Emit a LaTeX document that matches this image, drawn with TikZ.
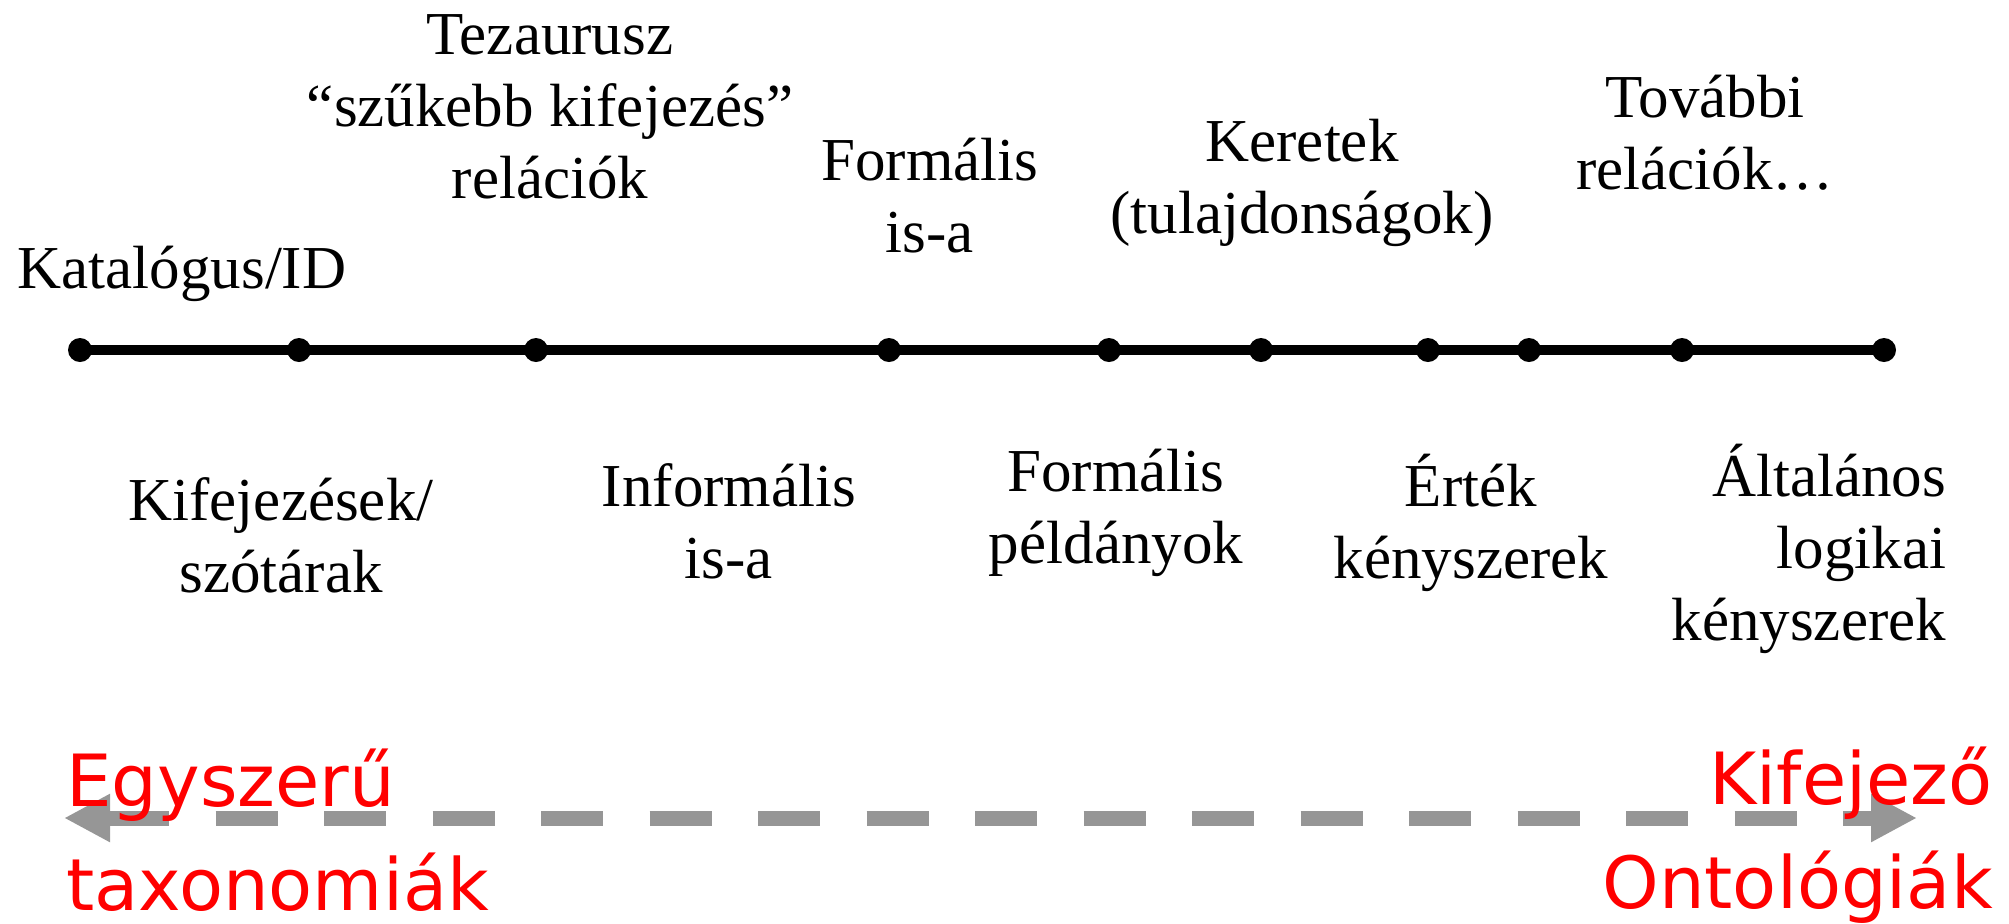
\documentclass[tikz,border=0pt]{standalone}
\usepackage{fontspec}
\setmainfont{Liberation Serif}
\newfontfamily\sansfont{DejaVu Sans}
\usepackage{tikz}
\usetikzlibrary{arrows.meta}
\usetikzlibrary{positioning}
\usepackage{xcolor}
\definecolor{myred}{HTML}{FF0000}
\definecolor{mygray}{HTML}{969696}
\tikzset{every text node part/.style={font={\fontsize{30.5}{36}\selectfont}}}
\tikzstyle{lbl} = [inner sep=0pt, outer sep=0pt, anchor=base, align=center]
\tikzstyle{dot} = [circle, fill=black, inner sep=0pt, minimum size=12pt]
\tikzstyle{ln} = [draw, line width=4.75pt]
\tikzstyle{endlbl} = [inner sep=0pt, text=myred, every text node part/.append style={font={\sansfont\fontsize{36}{52}\selectfont}}]
\tikzstyle{scalearrow} = [draw=mygray, line width=7.5pt, dash pattern=on 31pt off 23.25pt, arrows={Triangle[length=23pt, width=22.5pt]-Triangle[length=23pt, width=22.5pt]}]

\begin{document}
\begin{tikzpicture}[x=0.5pt, y=-0.5pt]
  \useasboundingbox (0,0) rectangle (2009,923);
  % the scale with its points
  \node[dot] (p1) at (80,350) {};
  \node[dot] (p2) at (299,350) {};
  \node[dot] (p3) at (536,350) {};
  \node[dot] (p4) at (889,350) {};
  \node[dot] (p5) at (1109,350) {};
  \node[dot] (p6) at (1261,350) {};
  \node[dot] (p7) at (1428,350) {};
  \node[dot] (p8) at (1529,350) {};
  \node[dot] (p9) at (1682,350) {};
  \node[dot] (p10) at (1884,350) {};
  \draw[ln] (p1.center) -- (p10.center);
  % labels above (base = last line)
  \node[lbl] (katalogus) at (182,288) {Katalógus/ID};
  \node[lbl] (tezaurusz) at (550,198) {Tezaurusz\\“szűkebb kifejezés”\\relációk};
  \node[lbl] (formisa) at (930,252) {Formális\\is-a};
  \node[lbl] (keretek) at (1302,233) {Keretek\\(tulajdonságok)};
  \node[lbl] (tovabbi) at (1705,189) {További\\relációk…};
  % labels below
  \node[lbl] (kifejezesek) at (281,592) {Kifejezések/\\szótárak};
  \node[lbl] (informisa) at (729,578) {Informális\\is-a};
  \node[lbl] (peldanyok) at (1116,563) {Formális\\példányok};
  \node[lbl] (ertek) at (1471,578) {Érték\\kényszerek};
  \node[lbl, anchor=base east, align=right] (altalanos) at (1946,640) {Általános\\logikai\\kényszerek};
  % simple vs. expressive
  \coordinate (egyszeru end) at (64,818);
  \coordinate (kifejezo end) at (1917,818);
  \draw[scalearrow] (egyszeru end) -- (kifejezo end);
  \node[endlbl, anchor=base west, align=left] (egyszeru) at (66,910) {Egyszerű\\taxonomiák};
  \node[endlbl, anchor=base east, align=right] (kifejezo) at (1993,908) {Kifejező\\Ontológiák};
\end{tikzpicture}
\end{document}
